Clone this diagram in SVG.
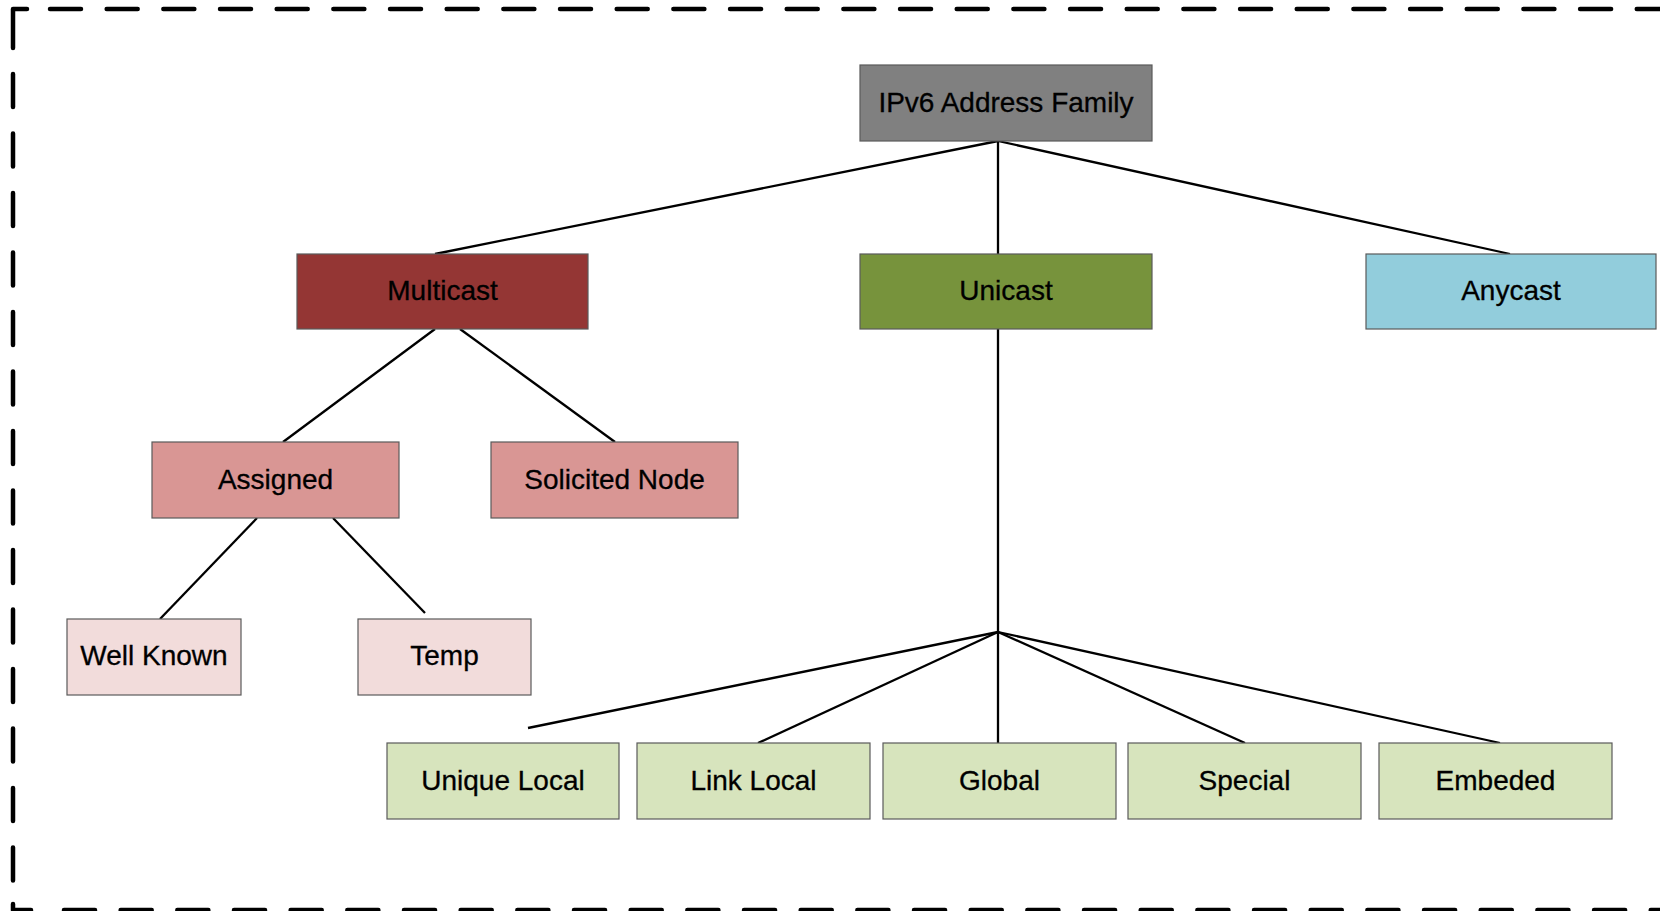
<svg xmlns="http://www.w3.org/2000/svg" width="1660" height="911" viewBox="0 0 1660 911">
  <style>
    .node rect { stroke: #5a5a5a; stroke-width: 1.2; }
    .node text { font-family: "Liberation Sans", Arial, sans-serif; font-size: 28px; fill: #000; text-anchor: middle; stroke: #000; stroke-width: 0.3; }
    .link { stroke: #000; stroke-width: 2.3; fill: none; }
    .frame { stroke: #000; stroke-width: 4.5; fill: none; stroke-linecap: round; stroke-linejoin: round; }
  </style>
  <rect x="0" y="0" width="1660" height="911" fill="#ffffff"/>

  <!-- dashed outer frame -->
  <g id="frame">
    <path class="frame" d="M27,9 H13 V48"/>
    <path class="frame" d="M50,9 H1662" stroke-dasharray="31 25.67"/>
    <path class="frame" d="M13,74 V885" stroke-dasharray="33 26.5"/>
    <path class="frame" d="M13,904 V910 H31"/>
    <path class="frame" d="M64,910 H1662" stroke-dasharray="31 25.67"/>
  </g>

  <!-- connectors -->
  <g id="connectors">
    <line class="link" x1="998" y1="141" x2="435" y2="254"/>
    <line class="link" x1="998" y1="141" x2="998" y2="254"/>
    <line class="link" x1="998" y1="141" x2="1510" y2="254"/>
    <line class="link" x1="435" y1="329" x2="283" y2="442"/>
    <line class="link" x1="460" y1="329" x2="615" y2="442"/>
    <line class="link" x1="257" y1="518" x2="160" y2="619"/>
    <line class="link" x1="333" y1="518" x2="425" y2="613"/>
    <line class="link" x1="998" y1="329" x2="998" y2="632"/>
    <line class="link" x1="998" y1="632" x2="528" y2="728"/>
    <line class="link" x1="998" y1="632" x2="758" y2="743"/>
    <line class="link" x1="998" y1="632" x2="998" y2="743"/>
    <line class="link" x1="998" y1="632" x2="1245" y2="743"/>
    <line class="link" x1="998" y1="632" x2="1500" y2="743"/>
  </g>

  <g id="ipv6-family" class="node">
    <rect x="860" y="65" width="292" height="76" fill="#808080"/>
    <text x="1006" y="112">IPv6 Address Family</text>
  </g>

  <g id="multicast" class="node">
    <rect x="297" y="254" width="291" height="75" fill="#943634"/>
    <text x="442.5" y="300">Multicast</text>
  </g>
  <g id="unicast" class="node">
    <rect x="860" y="254" width="292" height="75" fill="#77933C"/>
    <text x="1006" y="300">Unicast</text>
  </g>
  <g id="anycast" class="node">
    <rect x="1366" y="254" width="290" height="75" fill="#92CDDC"/>
    <text x="1511" y="300">Anycast</text>
  </g>

  <g id="assigned" class="node">
    <rect x="152" y="442" width="247" height="76" fill="#D99694"/>
    <text x="275.5" y="489">Assigned</text>
  </g>
  <g id="solicited-node" class="node">
    <rect x="491" y="442" width="247" height="76" fill="#D99694"/>
    <text x="614.5" y="489">Solicited Node</text>
  </g>

  <g id="well-known" class="node">
    <rect x="67" y="619" width="174" height="76" fill="#F2DCDB"/>
    <text x="154" y="665">Well Known</text>
  </g>
  <g id="temp" class="node">
    <rect x="358" y="619" width="173" height="76" fill="#F2DCDB"/>
    <text x="444.5" y="665">Temp</text>
  </g>

  <g id="unique-local" class="node">
    <rect x="387" y="743" width="232" height="76" fill="#D7E4BD"/>
    <text x="503" y="790">Unique Local</text>
  </g>
  <g id="link-local" class="node">
    <rect x="637" y="743" width="233" height="76" fill="#D7E4BD"/>
    <text x="753.5" y="790">Link Local</text>
  </g>
  <g id="global" class="node">
    <rect x="883" y="743" width="233" height="76" fill="#D7E4BD"/>
    <text x="999.5" y="790">Global</text>
  </g>
  <g id="special" class="node">
    <rect x="1128" y="743" width="233" height="76" fill="#D7E4BD"/>
    <text x="1244.5" y="790">Special</text>
  </g>
  <g id="embeded" class="node">
    <rect x="1379" y="743" width="233" height="76" fill="#D7E4BD"/>
    <text x="1495.5" y="790">Embeded</text>
  </g>
</svg>
